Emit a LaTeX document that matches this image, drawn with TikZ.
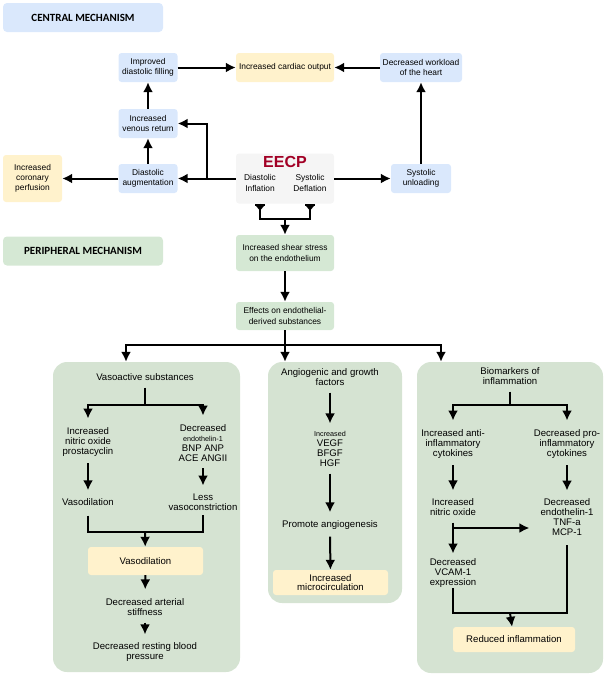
\documentclass[tikz,border=0pt]{standalone}
\usepackage{fontspec}
\setmainfont{Liberation Sans}
\newfontfamily\hdrfont{Carlito}
\usetikzlibrary{arrows.meta}
\definecolor{cblue}{HTML}{DAE8FC}
\definecolor{cyellow}{HTML}{FFF2CC}
\definecolor{cgreen}{HTML}{D5E8D4}
\definecolor{cpanel}{HTML}{D5E3D2}
\definecolor{cgray}{HTML}{F5F5F5}
\definecolor{cred}{HTML}{A20025}
\newcommand\cfont{\fontsize{8.4}{10.2}\selectfont}
\newcommand\pfont{\fontsize{9.6}{9.8}\selectfont}
\newcommand\sfont{\fontsize{7.2}{8}\selectfont}

\begin{document}
\begin{tikzpicture}[x=1pt, y=-1pt,
    box/.style={rounded corners=3pt, align=center, inner sep=1pt, font=\cfont,
                minimum width=59pt, minimum height=29pt},
    bluebox/.style={box, fill=cblue},
    yellowbox/.style={box, fill=cyellow},
    greenbox/.style={box, fill=cgreen},
    header/.style={rounded corners=4pt, minimum width=160pt, minimum height=29pt,
                   font=\hdrfont\bfseries\fontsize{11}{13}\selectfont},
    panel/.style={rounded corners=14pt, fill=cpanel},
    txt/.style={align=center, inner sep=1pt, font=\pfont},
    wire/.style={line width=2pt},
    arr/.style={wire, -{Latex[length=10pt,width=10pt]}},
    gap/.style={shorten <=6pt, shorten >=7pt}]
    \useasboundingbox (0,0) rectangle (605,675);

    % central mechanism
    \node [header, fill=cblue] (central) at (83,17.5) {CENTRAL MECHANISM};
    \node [bluebox] (filling) at (148,67.5) {Improved\\diastolic filling};
    \node [yellowbox, minimum width=98pt] (output) at (285,67.5) {Increased cardiac output};
    \node [bluebox, minimum width=82pt] (workload) at (421,67.5) {Decreased workload\\of the heart};
    \node [bluebox] (venous) at (148,123.5) {Increased\\venous return};
    \node [yellowbox, minimum height=47pt] (coronary) at (32.5,178.5) {Increased\\coronary\\perfusion};
    \node [bluebox] (augment) at (148,178.5) {Diastolic\\augmentation};
    \node [bluebox, minimum width=60pt] (unload) at (421,178.5) {Systolic\\unloading};

    % the EECP box
    \node [box, fill=cgray, minimum width=98pt, minimum height=50pt] (eecp) at (285,178.5) {};
    \node [font=\bfseries\fontsize{16}{16}\selectfont, text=cred] (eecptitle) at (285,162) {EECP};
    \node [box, minimum width=0pt, minimum height=0pt] (inflation) at (260,183) {Diastolic\\Inflation};
    \node [box, minimum width=0pt, minimum height=0pt] (deflation) at (310,183) {Systolic\\Deflation};

    \draw [arr] (filling) -- (output);
    \draw [arr] (workload) -- (output);
    \draw [arr] (venous) -- (filling);
    \draw [arr] (augment) -- (venous);
    \draw [arr] (eecp) -- (augment);
    \coordinate (branch) at (207,178.5);
    \draw [arr] (branch) |- (venous);
    \draw [arr] (augment) -- (coronary);
    \draw [arr] (eecp) -- (unload);
    \draw [arr] (unload) -- (workload);

    % inflation and deflation both lead down
    \foreach \side in {inflation,deflation}{
      \draw [wire] (eecp.south -| \side) ++(-5,1) -- ++(10,0);
      \fill (eecp.south -| \side) ++(-5,1) -- ++(10,0) -- ++(-5,6) -- cycle;
    }
    \coordinate (jmid) at (285,219);
    \draw [wire] (eecp.south -| inflation) |- (jmid) -| (eecp.south -| deflation);

    % peripheral mechanism
    \node [header, fill=cgreen] (peripheral) at (83,251) {PERIPHERAL MECHANISM};
    \node [greenbox, minimum width=98pt, minimum height=36pt] (shear) at (285,253) {Increased shear stress\\on the endothelium};
    \node [greenbox, minimum width=98pt, minimum height=28pt] (effects) at (285,316) {Effects on endothelial-\\derived substances};
    \draw [arr] (jmid) -- (shear);
    \draw [arr] (shear) -- (effects);

    \node [panel, minimum width=187pt, minimum height=310pt] (panelL) at (146.5,517) {};
    \node [panel, minimum width=134pt, minimum height=241pt] (panelM) at (335,482.5) {};
    \node [panel, minimum width=186pt, minimum height=311pt] (panelR) at (510,517.5) {};

    \coordinate (split) at (285,345);
    \draw [wire] (effects) -- (split);
    \draw [arr] (split) -| ([xshift=-20.5pt]panelL.north);
    \draw [arr] (split) -- (panelM.north -| split);
    \draw [arr] (split) -| ([xshift=-69pt]panelR.north);

    % vasoactive substances
    \node [txt] (vasoact) at (145,377) {Vasoactive substances};
    \coordinate (lsplit) at (145,405);
    \node [txt] (lno) at (88,442) {Increased\\nitric oxide\\prostacyclin};
    \node [txt] (lendo) at (203,443) {Decreased\\{\sfont endothelin-1}\\BNP ANP\\ACE ANGII};
    \node [txt] (vasodil) at (88,502) {Vasodilation};
    \node [txt] (lessvc) at (203,502) {Less\\vasoconstriction};
    \coordinate (ljoin) at (145,532);
    \node [yellowbox, font=\pfont, minimum width=115pt, minimum height=28pt] (vasodilbox) at (145.5,561) {Vasodilation};
    \node [txt] (stiff) at (145,607) {Decreased arterial\\stiffness};
    \node [txt] (bp) at (145,652) {Decreased resting blood\\pressure};

    \draw [wire, shorten <=6pt] (vasoact) -- (lsplit);
    \draw [arr, shorten >=8pt] (lsplit) -| (lno);
    \draw [arr, shorten >=8pt] (lsplit) -| (lendo);
    \draw [arr, gap] (lno) -- (vasodil);
    \draw [arr, gap] (lendo) -- (lessvc);
    \draw [wire, shorten <=9pt, shorten >=4pt] (vasodil) |- (ljoin) -| (lessvc);
    \draw [arr] (ljoin) -- (vasodilbox);
    \draw [arr, shorten >=8pt] (vasodilbox) -- (stiff);
    \draw [arr, gap] (stiff) -- (bp);

    % angiogenic and growth factors
    \node [txt] (angio) at (330,377) {Angiogenic and growth\\factors};
    \node [txt] (vegf) at (330,449) {{\sfont Increased}\\VEGF\\BFGF\\HGF};
    \node [txt] (promote) at (330,525) {Promote angiogenesis};
    \node [yellowbox, font=\pfont, minimum width=115pt, minimum height=25pt] (micro) at (330.5,582.5) {Increased\\microcirculation};

    \draw [arr, gap] (angio) -- (vegf);
    \draw [arr, gap] (vegf) -- (promote);
    \draw [arr, shorten <=6pt] (promote) -- (micro);

    % biomarkers of inflammation
    \node [txt] (biomark) at (510,376) {Biomarkers of\\inflammation};
    \coordinate (rsplit) at (510,405);
    \node [txt] (anti) at (453,444) {Increased anti-\\inflammatory\\cytokines};
    \node [txt] (pro) at (567,444) {Decreased pro-\\inflammatory\\cytokines};
    \node [txt] (rno) at (453,507) {Increased\\nitric oxide};
    \node [txt] (tnf) at (567,517) {Decreased\\endothelin-1\\TNF-a\\MCP-1};
    \node [txt] (vcam) at (453,573) {Decreased\\VCAM-1\\expression};
    \coordinate (rbranch) at (453,528);
    \coordinate (rjoin) at (510,613);
    \node [yellowbox, font=\pfont, minimum width=122pt, minimum height=25pt] (reduced) at (514,639.5) {Reduced inflammation};

    \draw [wire, shorten <=6pt] (biomark) -- (rsplit);
    \draw [arr, shorten >=8pt] (rsplit) -| (anti);
    \draw [arr, shorten >=8pt] (rsplit) -| (pro);
    \draw [arr, gap] (anti) -- (rno);
    \draw [arr, gap] (pro) -- (tnf);
    \draw [wire, shorten <=6pt] (rno) -- (rbranch);
    \draw [arr, shorten >=4pt] (rbranch) -- (vcam);
    \draw [arr, shorten >=10pt] (rbranch) -- (tnf.west |- rbranch);
    \draw [wire, shorten >=9pt] (vcam) |- (rjoin) -| (tnf);
    \draw [arr] (rjoin) -- (reduced);
\end{tikzpicture}
\end{document}
